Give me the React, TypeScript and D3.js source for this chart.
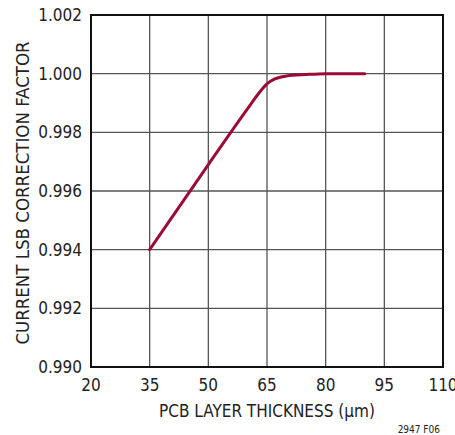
import React, { useRef, useEffect } from "react";
import * as d3 from "d3";

const xTicks = [20, 35, 50, 65, 80, 95, 110];
const yTicks = [0.99, 0.992, 0.994, 0.996, 0.998, 1.0, 1.002];
const thickness = [35, 50, 60, 63, 65, 67, 70, 75, 80, 90];
const factor = [0.994, 0.9969, 0.9988, 0.99935, 0.99965, 0.99982, 0.99992, 0.99997, 1.0, 1.0];

const FONT = "'DejaVu Sans Condensed', 'Liberation Sans Narrow', sans-serif";

export default function App() {
  const ref = useRef<SVGSVGElement>(null);

  useEffect(() => {
    if (!ref.current) return;
    const svg = d3.select(ref.current);
    svg.selectAll("*").remove();

    const left = 91, right = 443, top = 15, bottom = 367;

    const x = d3.scaleLinear().domain([20, 110]).range([left, right]);
    const y = d3.scaleLinear().domain([0.99, 1.002]).range([bottom, top]);

    // grid
    const g = svg.append("g");
    g.selectAll("line.vx")
      .data(xTicks.slice(1, -1))
      .enter()
      .append("line")
      .attr("x1", (d) => x(d))
      .attr("x2", (d) => x(d))
      .attr("y1", top)
      .attr("y2", bottom)
      .attr("stroke", "#555")
      .attr("stroke-width", 1.3);
    g.selectAll("line.hy")
      .data(yTicks.slice(1, -1))
      .enter()
      .append("line")
      .attr("x1", left)
      .attr("x2", right)
      .attr("y1", (d) => y(d))
      .attr("y2", (d) => y(d))
      .attr("stroke", "#555")
      .attr("stroke-width", 1.3);

    // frame
    svg
      .append("rect")
      .attr("x", left)
      .attr("y", top)
      .attr("width", right - left)
      .attr("height", bottom - top)
      .attr("fill", "none")
      .attr("stroke", "#111")
      .attr("stroke-width", 2);

    // curve
    const line = d3
      .line<number>()
      .x((d) => x(d))
      .y((_, i) => y(factor[i]))
      .curve(d3.curveMonotoneX);
    svg
      .append("path")
      .attr("d", line(thickness))
      .attr("fill", "none")
      .attr("stroke", "#9a0c36")
      .attr("stroke-width", 3)
      .attr("stroke-linecap", "round");

    // tick labels
    svg
      .selectAll("text.xt")
      .data(xTicks)
      .enter()
      .append("text")
      .attr("x", (d) => x(d))
      .attr("y", bottom + 24)
      .attr("text-anchor", "middle")
      .attr("font-family", FONT)
      .attr("font-size", 17)
      .attr("fill", "#222")
      .text((d) => String(d));
    svg
      .selectAll("text.yt")
      .data(yTicks)
      .enter()
      .append("text")
      .attr("x", left - 9)
      .attr("y", (d) => y(d) + 6)
      .attr("text-anchor", "end")
      .attr("font-family", FONT)
      .attr("font-size", 17)
      .attr("fill", "#222")
      .text((d) => d.toFixed(3));

    // axis titles
    svg
      .append("text")
      .attr("x", (left + right) / 2)
      .attr("y", bottom + 50)
      .attr("text-anchor", "middle")
      .attr("font-family", FONT)
      .attr("font-size", 17)
      .attr("fill", "#222")
      .text("PCB LAYER THICKNESS (µm)");
    svg
      .append("text")
      .attr("transform", `translate(29,${(top + bottom) / 2 + 2}) rotate(-90)`)
      .attr("text-anchor", "middle")
      .attr("font-family", FONT)
      .attr("font-size", 18.5)
      .attr("fill", "#222")
      .text("CURRENT LSB CORRECTION FACTOR");
    svg
      .append("text")
      .attr("x", 440)
      .attr("y", 433)
      .attr("text-anchor", "end")
      .attr("font-family", FONT)
      .attr("font-size", 10)
      .attr("fill", "#222")
      .text("2947 F06");
  }, []);

  return (
    <svg
      ref={ref}
      width={455}
      height={435}
      style={{ position: "absolute", left: 0, top: 0, background: "#fff" }}
    />
  );
}
